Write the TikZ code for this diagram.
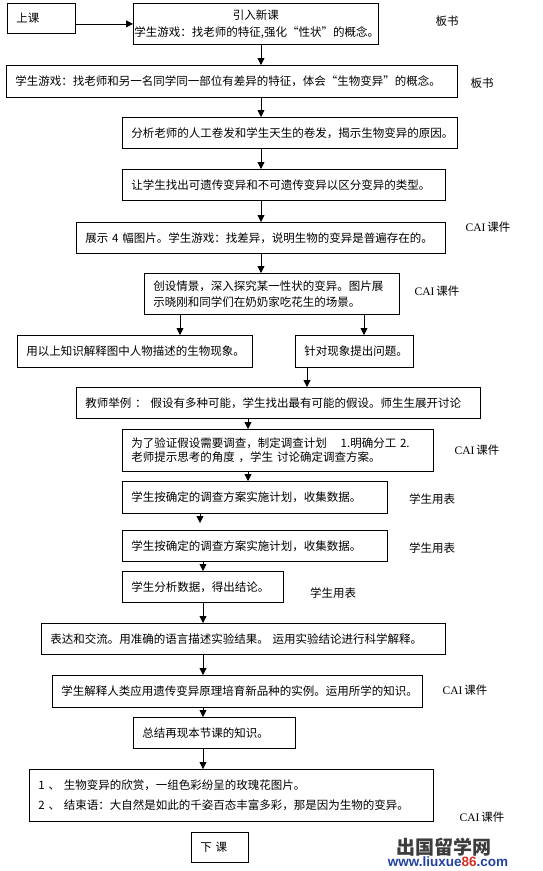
\documentclass[tikz,border=0pt]{standalone}
\usepackage{fontspec}
\setmainfont{Noto Sans CJK SC}
\newfontfamily\latinserif{Liberation Serif}
\newfontfamily\wmfont{Liberation Sans}
\usetikzlibrary{arrows.meta, positioning}

\definecolor{wmblue}{RGB}{35,65,160}
\definecolor{wmred}{RGB}{215,45,35}
\definecolor{wmgray}{RGB}{60,60,60}

\tikzset{
  stage/.style={draw, line width=0.8pt, anchor=north west, inner xsep=9pt, inner ysep=0pt,
    align=left, font=\fontsize{11.5pt}{15pt}\selectfont},
  flow/.style={-{Triangle[length=7pt,width=7pt]}, line width=0.8pt},
  note/.style={font=\fontsize{11.5pt}{15pt}\selectfont},
}

\begin{document}
\begin{tikzpicture}[x=1pt, y=-1pt]
    \useasboundingbox (0,0) rectangle (543,871);

    % Lesson stages, top to bottom
    \node[stage, text width=50pt, minimum height=30pt] (s1) at (7,3) {上课};
    \node[stage, text width=243pt, inner xsep=1pt, minimum height=41pt, align=center] (s2) at (133,3)
        {引入新课\\[2pt]学生游戏：找老师的特征,强化“性状”的概念。};
    \node[stage, text width=433pt, minimum height=32pt] (s3) at (6,65)
        {学生游戏：找老师和另一名同学同一部位有差异的特征，体会“生物变异”的概念。};
    \node[stage, text width=317pt, minimum height=31pt] (s4) at (122,117)
        {分析老师的人工卷发和学生天生的卷发，揭示生物变异的原因。};
    \node[stage, text width=305pt, minimum height=31pt] (s5) at (122,169)
        {让学生找出可遗传变异和不可遗传变异以区分变异的类型。};
    \node[stage, text width=351pt, minimum height=31pt] (s6) at (76,222)
        {展示~4~幅图片。学生游戏：找差异，说明生物的变异是普遍存在的。};
    \node[stage, text width=237pt, minimum height=41pt] (s7) at (144,273)
        {创设情景，深入探究某一性状的变异。图片展\\[1pt]示晓刚和同学们在奶奶家吃花生的场景。};
    \node[stage, text width=217pt, minimum height=32pt] (s8) at (17,335)
        {用以上知识解释图中人物描述的生物现象。};
    \node[stage, text width=100pt, minimum height=32pt] (s9) at (295,335) {针对现象提出问题。};
    \node[stage, text width=386pt, minimum height=31pt] (s10) at (76,387)
        {教师举例~：~假设有多种可能，学生找出最有可能的假设。师生生展开讨论};
    \node[stage, text width=293pt, minimum height=42pt] (s11) at (122,429)
        {为了验证假设需要调查，制定调查计划\hspace{1.2em}1.明确分工~2.\\[-1pt]老师提示思考的角度~，学生~讨论确定调查方案。};
    \node[stage, text width=247pt, minimum height=32pt] (s12) at (122,481)
        {学生按确定的调查方案实施计划，收集数据。};
    \node[stage, text width=247pt, minimum height=31pt] (s13) at (122,530)
        {学生按确定的调查方案实施计划，收集数据。};
    \node[stage, text width=143pt, minimum height=31pt] (s14) at (122,571) {学生分析数据，得出结论。};
    \node[stage, text width=386pt, minimum height=31pt] (s15) at (41,623)
        {表达和交流。用准确的语言描述实验结果。~运用实验结论进行科学解释。};
    \node[stage, text width=352pt, minimum height=32pt] (s16) at (52,675)
        {学生解释人类应用遗传变异原理培育新品种的实例。运用所学的知识。};
    \node[stage, text width=144pt, minimum height=31pt] (s17) at (133,717) {总结再现本节课的知识。};
    \node[stage, text width=386pt, minimum height=52pt] (s18) at (29,769)
        {1~、~生物变异的欣赏，一组色彩纷呈的玫瑰花图片。\\[5pt]2~、~结束语：大自然是如此的千姿百态丰富多彩，那是因为生物的变异。};
    \node[stage, text width=39pt, minimum height=30pt] (s19) at (191,832) {下~课};

    % Columns the arrows run down
    \coordinate (x1) at (261,0);
    \coordinate (x2) at (180,0);
    \coordinate (x3) at (364,0);
    \coordinate (x4) at (307,0);
    \coordinate (x5) at (248,0);
    \coordinate (x6) at (200,0);
    \coordinate (x7) at (203,0);

    % Arrows
    \draw[flow] (s1.east |- s2.west) -- (s2.west);
    \foreach \a/\b in {s2/s3, s3/s4, s4/s5, s5/s6, s6/s7}
        \draw[flow] (\a.south -| x1) -- (\b.north -| x1);
    \draw[flow] (s7.south -| x2) -- (s8.north -| x2);
    \draw[flow] (s7.south -| x3) -- (s9.north -| x3);
    \draw[flow] (s9.south -| x4) -- (s10.north -| x4);
    \draw[flow] (s10.south -| x5) -- (s11.north -| x5);
    \draw[flow] (s11.south -| x5) -- (s12.north -| x5);
    \draw[flow, shorten >=7pt] (s12.south -| x6) -- (s13.north -| x6);
    \foreach \a/\b in {s13/s14, s14/s15, s15/s16, s16/s17, s17/s18}
        \draw[flow] (\a.south -| x7) -- (\b.north -| x7);

    % Side notes
    \node[note] (n1) at (447,21) {板书};
    \node[note] (n2) at (482,83) {板书};
    \node[note] (n3) at (488,227) {{\latinserif CAI}\,课件};
    \node[note] (n4) at (437,291) {{\latinserif CAI}\,课件};
    \node[note] (n5) at (477,450) {{\latinserif CAI}\,课件};
    \node[note] (n6) at (432,499) {学生用表};
    \node[note] (n7) at (432,548) {学生用表};
    \node[note] (n8) at (333,593) {学生用表};
    \node[note] (n9) at (465,690) {{\latinserif CAI}\,课件};
    \node[note] (n10) at (482,817) {{\latinserif CAI}\,课件};

    % Site mark
    \node[font=\fontsize{19pt}{19pt}\selectfont\bfseries, text=wmgray] (wm1) at (444,847) {出国留学网};
    \node[font=\wmfont\bfseries\fontsize{13.5pt}{13.5pt}\selectfont, text=wmblue] (wm2) at (448,862)
        {www.liuxue{\color{wmred}86}.com};
\end{tikzpicture}
\end{document}
